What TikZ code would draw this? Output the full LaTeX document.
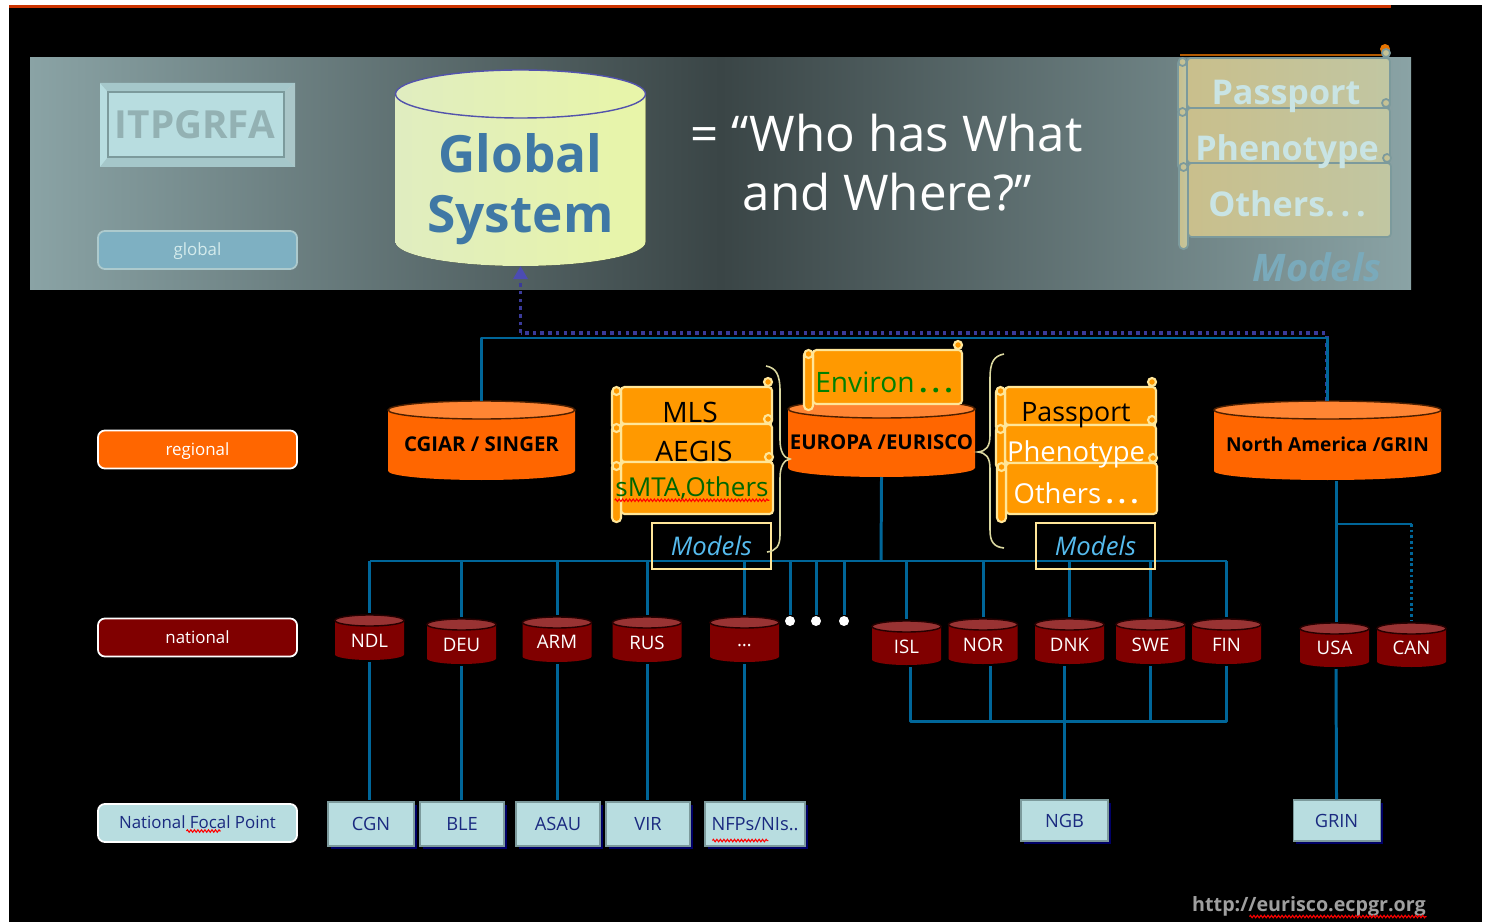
\documentclass[tikz,border=0pt]{standalone}
\usepackage{fontspec}
\setmainfont{Open Sans}
\usetikzlibrary{calc,shadows,arrows.meta,decorations.pathmorphing}
\definecolor{linkblue}{HTML}{006699}
\definecolor{dotpurple}{HTML}{3A3A9A}
\definecolor{paleblue}{HTML}{B8DDE0}
\definecolor{navytext}{HTML}{1A2A80}
\definecolor{scrollorange}{HTML}{FF9900}
\definecolor{scrollline}{HTML}{FFE699}
\definecolor{fadeline}{HTML}{7C9A9C}
\definecolor{fadetext}{HTML}{C9E4E4}
\definecolor{bannerside}{HTML}{8AA3A5}
\definecolor{bannermid}{HTML}{3A4546}
\definecolor{drumorange}{HTML}{FF6600}
\definecolor{drumred}{HTML}{800000}
\definecolor{HTMLend}{HTML}{993333}
\definecolor{HTMLorange}{HTML}{FF8533}
\definecolor{HTMLglobalA}{HTML}{E0EDC0}
\definecolor{HTMLglobalB}{HTML}{E8F5A8}
\definecolor{HTMLglobalT}{HTML}{3F78A5}
\definecolor{HTMLfadeA}{HTML}{C9BF8C}
\definecolor{HTMLfadeB}{HTML}{C1C6A2}
\definecolor{HTMLmodels}{HTML}{55BBEE}
\newcommand{\fs}[1]{\fontsize{#1}{#1}\selectfont}
\tikzset{
  linkline/.style={draw=linkblue, line width=0.85pt, line join=round},
  gapline/.style={linkline, shorten <=0.02cm, shorten >=0.02cm},
  red body/.style={fill=drumred},
  red end/.style={fill=HTMLend, draw=black!70!drumred, line width=0.4pt},
  orange body/.style={fill=drumorange},
  orange end/.style={fill=HTMLorange, draw=black!70!drumorange, line width=0.4pt},
  global body/.style={left color=HTMLglobalA, right color=HTMLglobalB},
  global end/.style={left color=HTMLglobalA, right color=HTMLglobalB, draw=blue!35!gray, line width=0.4pt},
  red text/.style={text=white, font=\fs{5.3}},
  orange text/.style={font=\fs{5.8}\bfseries},
  global text/.style={text=HTMLglobalT, align=center, font=\fontsize{14.6}{17}\selectfont\bfseries},
  databox/.style={draw=fadeline, line width=0.3pt, fill=paleblue, text=navytext, inner sep=0pt, font=\fs{5.2},
    drop shadow={shadow xshift=0.8pt, shadow yshift=-0.8pt, fill=blue!40!black, opacity=1}},
  levelbox/.style={draw=white, rounded corners=2pt, line width=0.5pt, minimum width=1.99cm, minimum height=0.38cm, inner sep=0pt, text height=3.6pt, text depth=0.4pt, font=\fs{4.8}, text=white},
  sheet/.style={draw=scrollline, line width=0.6pt, fill=scrollorange},
  fadesheet/.style={draw=fadeline, line width=0.5pt, left color=HTMLfadeA, right color=HTMLfadeB},
  fadeword/.style={text=fadetext, font=\fs{9.7}\bfseries},
  modelbox/.style={draw=scrollline, line width=0.5pt, minimum width=1.19cm, minimum height=0.46cm, inner sep=0pt, text=HTMLmodels, font=\fs{7.3}\itshape},
  squiggle/.style={draw=red, line width=0.3pt, decorate, decoration={zigzag, segment length=1pt, amplitude=0.35pt}},
  brace/.style={draw=yellow!45!gray!60!white, line width=0.45pt},
}
% one sheet of a scroll: left, top, right, bottom, end of the roll, style
\newcommand{\ScrollSheet}[6]{
  \draw[#6, rounded corners=1pt] ({#1+9},#2) -- (#3,#2) -- (#3,#4) -- ({#1+9},#4) -- cycle;
  \draw[#6, rounded corners=1.2pt] (#1,{#2+1}) rectangle ({#1+9},#5);
  \draw[#6] ({#1+4.5},{#2+4}) circle (0.04cm);
  \draw[#6] ({#3-4},{#2-5}) circle (0.04cm);
}
% a drum: name, centre x, top, bottom, x radius, y radius, kind, y of the text, text
\newcommand{\Drum}[9]{
  \fill[#7 body] ({#2-#5},{#3+#6}) -- ({#2-#5},{#4-#6})
     arc [start angle=180, end angle=360, x radius={#5*0.01cm}, y radius={#6*0.01cm}] -- ({#2+#5},{#3+#6}) -- cycle;
  \filldraw[#7 end] (#2,{#3+#6}) ellipse [x radius={#5*0.01cm}, y radius={#6*0.01cm}];
  \node[minimum width={2*#5*0.01cm}, minimum height={(#4-#3)*0.01cm}, inner sep=0pt, outer sep=0pt] (#1) at (#2,{(#3+#4)/2}) {};
  \node[#7 text, inner sep=0pt] (#1text) at (#2,#8) {#9};
}
\begin{document}
\begin{tikzpicture}[x=0.01cm,y=-0.01cm]
\useasboundingbox (0,0) rectangle (1486,922);
\fill[white] (0,0) rectangle (1486,922);
\fill[black] (9,5) rectangle (1482,922);
\fill[red!75!yellow!80!black] (9,5) rectangle (1391,8);

% banner
\shade[left color=bannerside, right color=bannerside, middle color=bannermid] (30,58) rectangle (1411,290);

% faded scroll
\draw[orange!70!black, line width=0.6pt] (1180,55) -- (1390,55);
\fill[orange!90!black] (1385,49) circle (0.05cm);
\ScrollSheet{1178}{58}{1390}{108}{115}{fadesheet}
\ScrollSheet{1178}{108}{1390}{163}{170}{fadesheet}
\ScrollSheet{1179}{163}{1391}{237}{249}{fadesheet}
\node[fadeword] (pass) at (1286,96) {Passport};
\node[fadeword] (phen) at (1287,152) {Phenotype};
\node[fadeword] (oth) at (1287,204) {Others.\,.\,.};
\node[text=HTMLmodels!30!bannerside, font=\fs{10.8}\bfseries\itshape] (modelsF) at (1317,267) {Models};

% ITPGRFA plate
\fill[paleblue] (100,83) rectangle (295,167);
\fill[paleblue!90!black] (100,83) -- (295,83) -- (284,92) -- (108,92) -- cycle;
\fill[paleblue!90!black] (100,167) -- (295,167) -- (284,157) -- (108,157) -- cycle;
\fill[paleblue!75!gray] (295,83) -- (295,167) -- (284,157) -- (284,92) -- cycle;
\draw[fadeline, line width=0.4pt] (108,92) rectangle (284,157);
\node[text=black!20!paleblue, font=\fs{11}\bfseries] (ITPGRFA) at (195,125) {ITPGRFA};

\node[levelbox, fill=HTMLmodels!35!bannerside!90!paleblue, draw=paleblue!80!gray, text=paleblue!60!white] (global) at (197.5,250) {global};
\node[levelbox, fill=drumorange] (regional) at (197.5,449.5) {regional};
\node[levelbox, fill=drumred] (national) at (197.5,637.5) {national};
\node[levelbox, fill=paleblue, text=navytext] (focal) at (197.5,823) {National Focal Point};

% global system
\Drum{Global}{520.5}{70}{266}{125}{24}{global}{189}{Global\\System}
\node[text=white, font=\fs{14}, anchor=west, inner sep=0pt] (who) at (690,133) {= “Who has What};
\node[text=white, font=\fs{14}, anchor=west, inner sep=0pt] (where) at (742,192) {and Where?”};

% regional drums
\Drum{CGIAR}{481.5}{401}{480}{93.5}{9}{orange}{444}{CGIAR / SINGER}
\Drum{EUROPA}{881.5}{400}{477}{93.5}{9}{orange}{442}{EUROPA /EURISCO}
\Drum{NORTHAM}{1327.5}{401}{480}{113.5}{9}{orange}{444}{\fs{5.45}North America /GRIN}

% national drums
\foreach \nm/\x/\t/\b/\ty/\txt in {NDL/369.5/615/660/641/NDL, DEU/461.5/619/664/645/DEU, ARM/557/617/662/642/ARM, RUS/647/617/662/643/RUS,
   MORE/744.5/617/662/646/\ldots, ISL/906.5/621/665/647/ISL, NOR/983/619/664/645/NOR, DNK/1069.5/619/664/645/DNK,
   SWE/1150.5/619/664/645/SWE, FIN/1226.5/619/664/645/FIN, USA/1334.5/623/667/648/USA, CAN/1411.5/623/667/648/CAN}
{
  \Drum{\nm}{\x}{\t}{\b}{34.5}{5.5}{red}{\ty}{\txt}
}

% institutes
\foreach \nm/\x/\y/\w/\h/\txt in {CGN/371/824/86/44/CGN, BLE/462/824/84/44/BLE, ASAU/558/824/84/44/ASAU,
   VIR/648/824/84/44/VIR, NFP/755/824/100/44/{NFPs/NIs..}, NGB/1064.5/820.5/87/41/NGB, GRIN/1336.5/820.5/87/41/GRIN}
  \node[databox, minimum width=\w*0.01cm, minimum height=\h*0.01cm] (\nm) at (\x,\y) {\txt};

\foreach \nm/\x in {dotA/790, dotB/816, dotC/844}
  \node[circle, fill=white, inner sep=0pt, minimum size=0.1cm] (\nm) at (\x,621) {};

\coordinate (busR) at (882,338);
\coordinate (busN) at (881,561);
\coordinate (busL) at (1064,721);
\coordinate (busC) at (1336,524);

% dotted link to the global system
\draw[dotpurple, line width=0.9pt, dash pattern=on 1pt off 1.2pt] (1327,401) -- (1327,333) -- (520.5,333);
\draw[dotpurple, line width=0.9pt, dash pattern=on 1pt off 1.2pt, -{Triangle[length=0.13cm,width=0.14cm,color=blue!40!gray]}] (520.5,333) -- (Global.south);

% lines
\draw[linkline] (CGIAR.north) -- (CGIAR.north |- busR) -- (NORTHAM.north |- busR) -- (NORTHAM.north);
\draw[linkline] (EUROPA.south) -- (busN);
\draw[linkline] (NDL.north |- busN) -- (FIN.north |- busN);
\foreach \nm in {NDL,DEU,ARM,RUS,MORE,ISL,NOR,DNK,SWE,FIN}
  \draw[gapline, shorten <=0pt] (\nm.north |- busN) -- (\nm.north);
\foreach \nm in {dotA,dotB,dotC}
  \draw[linkline] (\nm.north |- busN) -- (\nm.north);
\foreach \nm/\ins in {NDL/CGN,DEU/BLE,ARM/ASAU,RUS/VIR,MORE/NFP}
  \draw[gapline, shorten >=0.01cm] (\nm.south) -- (\nm.south |- \ins.north);
\draw[linkline] ($(ISL.south)+(4,2)$) |- (FIN.south |- busL) -- ($(FIN.south)+(0,2)$);
\draw[linkline] ($(NOR.south)+(7,2)$) -- ($(NOR.south |- busL)+(7,0)$);
\draw[linkline] ($(SWE.south)+(0,2)$) -- (SWE.south |- busL);
\draw[linkline] ($(DNK.south)+(-5,2)$) -- (NGB.north);
\draw[linkline] ($(NORTHAM.south)+(8.5,1)$) -- ($(USA.north)+(1.5,-1)$);
\draw[linkline] ($(USA.south)+(1.5,2)$) -- (GRIN.north);
\draw[linkline] (busC) -- (CAN.north |- busC);
\draw[linkline, dash pattern=on 0.8pt off 0.8pt] (CAN.north |- busC) -- ($(CAN.north)+(0,-3)$);

% scrolls at the regional level
\ScrollSheet{804}{350}{962}{404}{410}{sheet}
\node[text=green!50!black, font=\fs{8}] (environ) at (884,382) {Environ\textbf{\,.\,.\,.}};

\ScrollSheet{612}{387}{772}{424}{430}{sheet}
\ScrollSheet{612}{424}{772}{462}{468}{sheet}
\ScrollSheet{612}{462}{773}{514}{522}{sheet}
\node[font=\fs{8}] (MLS) at (690,412) {MLS};
\node[font=\fs{8}] (AEGIS) at (694,451) {AEGIS};
\node[text=green!40!black, font=\fs{7.4}, inner sep=0pt] (sMTA) at (692,488) {sMTA,Others};
\draw[squiggle] (sMTA.south west) -- (sMTA.south east);

\ScrollSheet{996}{387}{1156}{425}{431}{sheet}
\ScrollSheet{996}{425}{1156}{463}{469}{sheet}
\ScrollSheet{997}{463}{1157}{514}{522}{sheet}
\node[font=\fs{7.6}] (passR) at (1076,415) {Passport};
\node[text=white, font=\fs{7.8}] (phenR) at (1076,454) {Phenotype};
\node[text=white, font=\fs{7.8}] (othR) at (1076,493) {Others\textbf{\,.\,.\,.}};

\node[modelbox] (modelsL) at (711.5,546) {Models};
\node[modelbox] (modelsR) at (1095.5,546) {Models};

% braces
\draw[brace] (766,366) .. controls (776,368) and (780,374) .. (780,392) -- (780,440) .. controls (780,452) and (784,458) .. (790,459)
   .. controls (784,460) and (780,466) .. (780,478) -- (780,535) .. controls (780,546) and (776,551) .. (767,552);
\draw[brace] (1004,354) .. controls (994,356) and (990,362) .. (990,378) -- (990,435) .. controls (990,447) and (986,451) .. (978,452)
   .. controls (986,453) and (990,457) .. (990,469) -- (990,530) .. controls (990,542) and (994,547) .. (1004,548);

% spelling marks and address
\draw[squiggle] (NFP.south west) ++(8,-6) -- ++(56,0);
\draw[squiggle] ($(focal.center)+(-11,8)$) -- ++(34,0);
\node[text=gray!75!white, font=\fs{5.6}\bfseries, inner sep=0pt] (url) at (1309,906) {http://eurisco.ecpgr.org};
\draw[squiggle] ($(url.south west)+(58,0)$) -- (url.south east);
\end{tikzpicture}
\end{document}
